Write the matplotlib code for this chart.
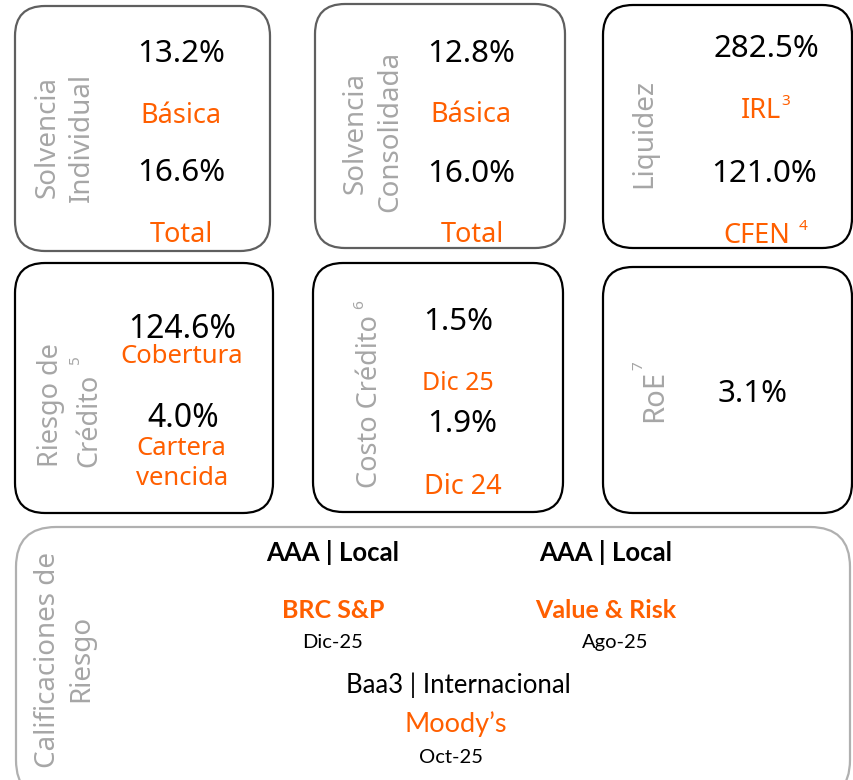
import matplotlib
matplotlib.use("Agg")
import matplotlib.pyplot as plt
from matplotlib.patches import FancyBboxPatch

plt.rcParams['font.family'] = ['Noto Sans', 'DejaVu Sans']

# ---------------- data ----------------
panel_titles = ["Solvencia\nIndividual", "Solvencia\nConsolidada", "Liquidez",
                "Riesgo de\nCrédito", "Costo Crédito", "RoE"]
panel_title_notes = ["", "", "", "5", "6", "7"]

solv_ind_values = ["13.2%", "16.6%"]
solv_ind_labels = ["Básica", "Total"]
solv_con_values = ["12.8%", "16.0%"]
solv_con_labels = ["Básica", "Total"]
liq_values = ["282.5%", "121.0%"]
liq_labels = ["IRL", "CFEN"]
liq_notes = ["3", "4"]
credit_values = ["124.6%", "4.0%"]
credit_labels = ["Cobertura", "Cartera\nvencida"]
cost_values = ["1.5%", "1.9%"]
cost_labels = ["Dic 25", "Dic 24"]
roe_value = "3.1%"

ratings_title = "Calificaciones de\nRiesgo"
rating_grades = ["AAA | Local", "AAA | Local", "Baa3 | Internacional"]
rating_agencies = ["BRC S&P", "Value & Risk", "Moody’s"]
rating_dates = ["Dic-25", "Ago-25", "Oct-25"]

# ---------------- style ----------------
ORANGE = "#FF5F00"
GREY_TXT = "#A6A6A6"
BLACK = "#000000"
RATING_FONT = ['Lato', 'Noto Sans', 'DejaVu Sans']

fig = plt.figure(figsize=(8.54, 7.80), dpi=100)
ax = fig.add_axes([0, 0, 1, 1])
ax.set_xlim(0, 854)
ax.set_ylim(780, 0)
ax.axis('off')


def box(x0, y0, x1, y1, color, r=30, lw=1.6):
    p = FancyBboxPatch((x0, y0), x1 - x0, y1 - y0,
                       boxstyle=f"round,pad=0,rounding_size={r}",
                       fc="white", ec=color, lw=lw, clip_on=True)
    ax.add_patch(p)


def t(x, y, s, size, color=BLACK, weight='normal', ha='center', family=None):
    kw = {}
    if family is not None:
        kw['family'] = family
    ax.text(x, y, s, fontsize=size, color=color, weight=weight,
            ha=ha, va='baseline', **kw)


def rot(x, y, s, size, color=GREY_TXT, ha='center'):
    # x = baseline position, y = anchor along text direction
    ax.text(x, y, s, fontsize=size, color=color, rotation=90,
            rotation_mode='anchor', ha=ha, va='baseline')


# ---------------- boxes ----------------
box(15, 6, 270, 251, "#5F5F5F")
box(315, 4, 565, 248, "#5F5F5F")
box(603, 5, 852, 248, BLACK)
box(15, 263, 273, 513, BLACK)
box(313, 263, 563, 512, BLACK)
box(603, 267, 852, 513, BLACK)
box(16, 527, 850, 800, "#B0B0B0", r=40)

# ---------------- panel 1: Solvencia Individual ----------------
t1 = panel_titles[0].split("\n")
rot(55, 137, t1[0], 20)
rot(89, 137, t1[1], 20)
t(181, 62, solv_ind_values[0], 22.5)
t(181, 123, solv_ind_labels[0], 19.5, ORANGE)
t(181, 181, solv_ind_values[1], 22.5)
t(181, 242, solv_ind_labels[1], 19.5, ORANGE)

# ---------------- panel 2: Solvencia Consolidada ----------------
t2 = panel_titles[1].split("\n")
rot(363, 133, t2[0], 20)
rot(397, 131, t2[1], 20)
t(471, 62, solv_con_values[0], 22.5)
t(471, 122, solv_con_labels[0], 19.5, ORANGE)
t(471, 182, solv_con_values[1], 22.5)
t(472, 242, solv_con_labels[1], 19.5, ORANGE)

# ---------------- panel 3: Liquidez ----------------
rot(651, 133, panel_titles[2], 20)
t(766, 57, liq_values[0], 22.5)
t(761, 118, liq_labels[0], 19.5, ORANGE)
t(781, 105, liq_notes[0], 11, ORANGE, ha='left')
t(764, 182, liq_values[1], 22.5)
t(757, 243, liq_labels[1], 19.5, ORANGE)
t(799, 230, liq_notes[1], 11, ORANGE, ha='left')

# ---------------- panel 4: Riesgo de Crédito ----------------
t4 = panel_titles[3].split("\n")
rot(58, 467, t4[0], 19.5, ha='left')
rot(96, 467, t4[1], 19.5, ha='left')
rot(79, 364, panel_title_notes[3], 11, ha='left')
t(182, 338, credit_values[0], 23)
t(182, 363, credit_labels[0], 18.5, ORANGE)
t(183, 427, credit_values[1], 23)
cl = credit_labels[1].split("\n")
t(181, 455, cl[0], 18.5, ORANGE)
t(182, 485, cl[1], 18.5, ORANGE)

# ---------------- panel 5: Costo Crédito ----------------
rot(377, 488, panel_titles[4], 19.5, ha='left')
rot(363, 309, panel_title_notes[4], 11, ha='left')
t(458, 330, cost_values[0], 22.5)
t(458, 390, cost_labels[0], 18, ORANGE)
t(462, 432, cost_values[1], 22.5)
t(463, 494, cost_labels[1], 19.5, ORANGE)

# ---------------- panel 6: RoE ----------------
rot(662, 422, panel_titles[5], 21, ha='left')
rot(642, 370, panel_title_notes[5], 11, ha='left')
t(753, 402, roe_value, 22.5)

# ---------------- panel 7: Calificaciones ----------------
rt = ratings_title.split("\n")
rot(55, 660, rt[0], 20)
rot(88, 658, rt[1], 20)

grade_xy = [(333, 561), (606, 561), (458, 693)]
agency_xy = [(333, 618), (606, 618), (456, 732)]
date_xy = [(333, 648), (615, 648), (451, 763)]
grade_w = ['bold', 'bold', 'normal']
agency_w = ['bold', 'bold', 'normal']
for g, a, d, gp, ap, dp, gw, aw in zip(rating_grades, rating_agencies, rating_dates,
                                       grade_xy, agency_xy, date_xy, grade_w, agency_w):
    t(gp[0], gp[1], g, 18.5, BLACK, weight=gw, family=RATING_FONT)
    t(ap[0], ap[1], a, 18 if aw == 'bold' else 19.5, ORANGE, weight=aw,
      family=RATING_FONT)
    t(dp[0], dp[1], d, 14.5, BLACK, family=RATING_FONT)

fig.savefig("out.png", dpi=100)
